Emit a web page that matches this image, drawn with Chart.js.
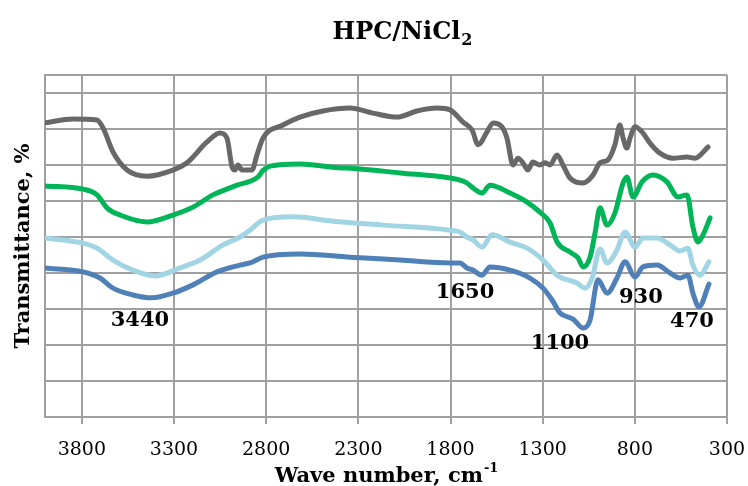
<!DOCTYPE html>
<html>
<head>
<meta charset="utf-8">
<script src="https://cdn.jsdelivr.net/npm/chart.js@4/dist/chart.umd.min.js"></script>
<style>
html,body{margin:0;padding:0;background:#fff;}
#wrap{width:748px;height:486px;position:relative;}
</style>
</head>
<body>
<div id="wrap"><canvas id="c" width="748" height="486"></canvas></div>
<script>
// Wavenumbers (cm-1) and transmittance (%, offset traces)
const wnGray = [4000,3848,3718,3685,3631,3555,3447,3306,3230,3121,3051,3013,2985,2969,2953,2931,2877,2850,2817,2709,2617,2492,2345,2221,2090,1982,1873,1803,1732,1683,1650,1602,1569,1521,1494,1461,1434,1407,1380,1353,1315,1287,1260,1222,1190,1152,1081,1027,989,946,908,881,864,843,826,799,761,718,664,593,517,474,403];
const tGray  = [81.7,82.8,82.5,80.3,73.6,68.6,66.9,68.6,70.6,76.4,78.9,77.5,69.4,68.6,70.0,68.6,68.6,72.8,77.5,81.1,83.3,85.0,85.8,84.4,83.3,85.0,85.8,85.3,81.9,79.7,75.6,79.2,81.7,80.6,77.5,70.0,71.9,70.6,68.6,70.8,70.0,70.6,70.0,72.8,70.0,66.4,65.0,67.2,70.6,71.4,75.6,81.1,77.5,74.7,77.5,80.6,79.2,76.1,73.3,71.9,72.2,71.9,75.0];

const wnGreen = [4000,3794,3718,3664,3593,3447,3306,3197,3089,2958,2844,2817,2779,2617,2438,2291,2074,1803,1749,1711,1678,1629,1586,1477,1385,1315,1260,1222,1152,1108,1081,1043,1016,989,951,908,864,843,810,761,702,626,566,517,485,457,430,392];
const tGreen  = [64.2,63.3,61.7,58.1,56.1,54.2,56.1,58.3,61.7,64.4,66.7,68.5,69.7,70.3,69.4,68.9,67.8,66.4,65.8,65.0,63.6,62.2,64.4,62.2,59.7,56.9,53.9,48.6,45.8,44.2,41.7,44.4,51.1,58.1,53.3,56.7,65.0,66.7,61.1,65.3,67.2,65.3,61.1,61.7,52.8,48.6,50.6,55.3];

const wnLight = [4000,3794,3718,3631,3523,3403,3268,3159,3034,2942,2888,2817,2655,2438,2166,1803,1749,1711,1678,1629,1575,1477,1385,1298,1222,1114,1070,1032,989,951,897,853,799,756,680,609,555,512,485,447,398];
const tLight  = [49.7,48.3,46.9,43.6,40.8,39.2,41.4,43.6,47.8,50.0,51.9,54.7,55.6,54.4,53.3,51.9,51.4,50.0,49.2,47.2,50.6,48.6,46.9,43.6,39.4,37.2,35.8,38.6,46.7,42.8,46.4,51.4,47.2,49.7,49.7,47.8,46.1,46.9,42.2,39.4,43.1];

const wnBlue = [4000,3794,3702,3631,3523,3420,3306,3197,3067,2942,2888,2817,2617,2345,2074,1803,1749,1711,1678,1629,1586,1477,1369,1298,1249,1206,1135,1081,1043,1000,951,897,853,799,756,680,609,555,512,485,452,398];
const tBlue  = [41.4,40.3,38.6,35.8,33.9,33.1,34.4,36.7,40.3,42.2,42.8,44.4,45.3,44.4,43.6,42.8,42.8,41.4,40.8,39.4,41.7,40.8,38.6,35.8,32.5,28.9,27.2,24.7,26.9,38.1,34.4,38.6,43.1,38.9,41.7,42.2,40.0,38.6,39.4,34.4,30.6,36.9];

const xTicks = [3800,3300,2800,2300,1800,1300,800,300];
const yGrid  = [0,10,20,30,40,50,60,70,80,90,95];

const peakLabels = ["3440","1650","1100","930","470"];
const peakX      = [3485,1721,1206,767,490];
const peakY      = [26.9,34.7,20.3,33.3,26.4];

const titleText = "HPC/NiCl";
const titleSub  = "2";
const xTitle    = "Wave number, cm";
const xTitleSup = "-1";
const yTitle    = "Transmittance, %";

function pts(xs, ys){ return xs.map((x,i)=>({x:x, y:ys[i]})); }

const SERIF = "'DejaVu Serif', 'Liberation Serif', serif";

const textPlugin = {
  id:'texts',
  afterDraw(chart){
    const ctx = chart.ctx, xs = chart.scales.x, ys = chart.scales.y;
    ctx.save();
    ctx.fillStyle = '#000';
    // peak labels
    ctx.font = "bold 21px " + SERIF;
    ctx.textAlign = 'center'; ctx.textBaseline = 'middle';
    peakLabels.forEach((t,i)=>{
      ctx.fillText(t, xs.getPixelForValue(peakX[i]), ys.getPixelForValue(peakY[i]));
    });
    // chart title with subscript
    ctx.textBaseline = 'alphabetic'; ctx.textAlign = 'left';
    ctx.font = "bold 24px " + SERIF;
    const w1 = ctx.measureText(titleText).width;
    ctx.font = "bold 16px " + SERIF;
    const w2 = ctx.measureText(titleSub).width;
    let tx = 402 - (w1 + w2)/2;
    ctx.font = "bold 24px " + SERIF;
    ctx.fillText(titleText, tx, 39);
    ctx.font = "bold 16px " + SERIF;
    ctx.fillText(titleSub, tx + w1 + 1, 45);
    // x axis title with superscript
    ctx.font = "bold 21px " + SERIF;
    const w3 = ctx.measureText(xTitle).width;
    ctx.font = "bold 13px " + SERIF;
    const w4 = ctx.measureText(xTitleSup).width;
    let xx = (chart.chartArea.left + chart.chartArea.right)/2 - (w3 + w4)/2;
    ctx.font = "bold 21px " + SERIF;
    ctx.fillText(xTitle, xx, 482);
    ctx.font = "bold 13px " + SERIF;
    ctx.fillText(xTitleSup, xx + w3 + 1, 472);
    // y axis title
    ctx.translate(29, (chart.chartArea.top + chart.chartArea.bottom)/2);
    ctx.rotate(-Math.PI/2);
    ctx.textAlign = 'center';
    ctx.font = "bold 21px " + SERIF;
    ctx.fillText(yTitle, 0, 0);
    ctx.restore();
  }
};

const ds = (label, xs, ys, color) => ({
  label, data: pts(xs, ys), borderColor: color, backgroundColor: color,
  borderWidth: 5, pointRadius: 0, tension: 0.4, cubicInterpolationMode: 'monotone',
  fill: false, borderCapStyle: 'round', borderJoinStyle: 'round'
});

new Chart(document.getElementById('c'), {
  type: 'line',
  data: {
    datasets: [
      ds('HPC', wnGray, tGray, '#686868'),
      ds('HPC/NiCl2 a', wnGreen, tGreen, '#00b558'),
      ds('HPC/NiCl2 b', wnLight, tLight, '#a2d5e4'),
      ds('HPC/NiCl2 c', wnBlue, tBlue, '#4f81b8')
    ]
  },
  options: {
    responsive: false, animation: false, devicePixelRatio: 1,
    layout: { padding: { top: 75, right: 21, left: 0, bottom: 0 } },
    plugins: { legend: { display: false }, title: { display: false }, tooltip: { enabled: false } },
    scales: {
      x: {
        type: 'linear', reverse: true, min: 300, max: 4000,
        afterBuildTicks: s => { s.ticks = xTicks.map(v => ({ value: v })); },
        afterFit: s => { s.height = 69; s.paddingLeft = 0; s.paddingRight = 0; },
        ticks: { color: '#000', font: { family: SERIF, size: 19 }, padding: 15, maxRotation: 0, autoSkip: false,
                 callback: v => String(v) },
        grid: { color: '#a0a0a0', lineWidth: 2, drawTicks: true, tickLength: 7, tickColor: '#a0a0a0' },
        border: { display: true, color: '#a0a0a0', width: 2 }
      },
      y: {
        min: 0, max: 95,
        afterBuildTicks: s => { s.ticks = yGrid.map(v => ({ value: v })); },
        afterFit: s => { s.width = 45; s.paddingTop = 0; s.paddingBottom = 0; },
        ticks: { display: false },
        grid: { color: '#a0a0a0', lineWidth: 2, drawTicks: false },
        border: { display: true, color: '#a0a0a0', width: 2 }
      }
    }
  },
  plugins: [textPlugin]
});
</script>
</body>
</html>
